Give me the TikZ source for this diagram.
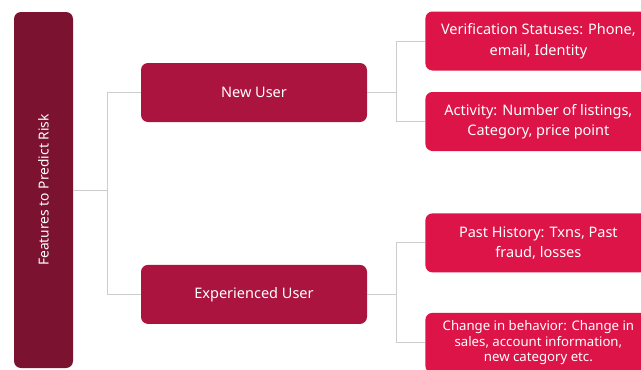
\documentclass[tikz,border=0pt]{standalone}
\usepackage{fontspec}
\setmainfont{Noto Sans}
\usetikzlibrary{positioning}
\definecolor{RiskMaroon}{RGB}{122,18,48}
\definecolor{UserRed}{RGB}{171,20,62}
\definecolor{FeatureRed}{RGB}{220,20,72}
\definecolor{LinkGray}{RGB}{205,205,205}
\tikzset{
  rootnode/.style={fill=RiskMaroon,rounded corners=7pt,minimum width=59pt,minimum height=356pt,inner sep=0pt,text=white,font=\fontsize{13.8}{16}\selectfont},
  usernode/.style={fill=UserRed,rounded corners=7pt,minimum width=226pt,minimum height=59pt,inner sep=0pt,text=white,font=\fontsize{14.5}{17}\selectfont},
  featnode/.style={fill=FeatureRed,rounded corners=7pt,minimum width=226pt,minimum height=59pt,inner sep=0pt,align=center,text=white,font=\fontsize{14.5}{20.5}\selectfont},
  link/.style={draw=LinkGray,line width=1pt}
}

\begin{document}
\begin{tikzpicture}[x=1pt,y=1pt,node distance=58pt]
\useasboundingbox (0,0) rectangle (641,-370);
\clip (0,0) rectangle (641,-370);
\node[rootnode] (risk) at (43.5,-190) {\rotatebox{90}{Features to Predict Risk}};
\node[usernode] (newuser) at (254,-92.5) {New User};
\node[usernode, below=142.5pt of newuser] (expuser) {Experienced User};

\node[featnode, right=of newuser, yshift=51.5pt] (verif) {Verification Statuses: Phone,\\email, Identity};
\node[featnode, right=of newuser, yshift=-29pt] (activity) {Activity: Number of listings,\\Category, price point};
\node[featnode, right=of expuser, yshift=51.5pt] (history) {Past History: Txns, Past\\fraud, losses};
\node[featnode, right=of expuser, yshift=-48.5pt, minimum height=60pt, font=\fontsize{13.2}{15.5}\selectfont] (behaviour) {Change in behavior: Change in\\sales, account information,\\new category etc.};

% tree links
\draw[link] (risk.east) -- ++(34,0) coordinate (riskjoin);
\draw[link] (newuser.west) -| (riskjoin) |- (expuser.west);
\draw[link] (newuser.east) -- ++(29,0) coordinate (newjoin);
\draw[link] (verif.west) -| (newjoin) |- (activity.west);
\draw[link] (expuser.east) -- ++(29,0) coordinate (expjoin);
\draw[link] (history.west) -| (expjoin) |- (behaviour.west);
\end{tikzpicture}
\end{document}
